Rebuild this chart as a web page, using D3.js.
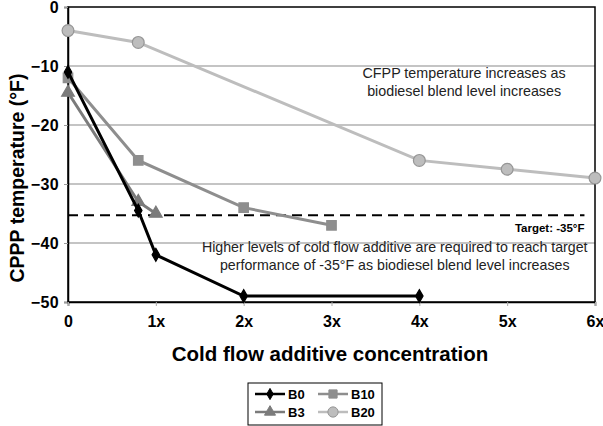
<!DOCTYPE html>
<html>
<head>
<meta charset="utf-8">
<script src="https://cdn.jsdelivr.net/npm/d3@7"></script>
<style>
  body { margin: 0; background: #fff; }
  svg { font-family: "Liberation Sans", Arial, sans-serif; }
</style>
</head>
<body>
<div id="chart"></div>
<script>
// data
const xTicks = [0, 1, 2, 3, 4, 5, 6];
const xTickLabels = ['0', '1x', '2x', '3x', '4x', '5x', '6x'];
const yTicks = [0, -10, -20, -30, -40, -50];

const b0X = [0, 0.8, 1, 2, 4];
const b0Y = [-11, -34.5, -42, -49, -49];
const b10X = [0, 0.8, 2, 3];
const b10Y = [-12, -26, -34, -37];
const b3X = [0, 0.8, 1];
const b3Y = [-14.5, -33, -35];
const b20X = [0, 0.8, 4, 5, 6];
const b20Y = [-4, -6, -26, -27.5, -29];

const targetValue = -35.3;

const width = 603, height = 426;
const margin = { top: 7, right: 8, bottom: 124, left: 68 };
const w = 595 - margin.left;
const h = 302 - margin.top;

const svg = d3.select('#chart').append('svg')
    .attr('width', width)
    .attr('height', height);

const g = svg.append('g')
    .attr('transform', `translate(${margin.left},${margin.top})`);

const x = d3.scaleLinear().domain([0, 6]).range([0, w]);
const y = d3.scaleLinear().domain([-50, 0]).range([h, 0]);

// gridlines
g.selectAll('.grid')
    .data(yTicks.filter(d => d !== 0 && d !== -50))
    .enter().append('line')
    .attr('x1', 0).attr('x2', w)
    .attr('y1', d => y(d)).attr('y2', d => y(d))
    .attr('stroke', '#c4c4c4')
    .attr('stroke-width', 2);

// box
g.append('rect')
    .attr('width', w).attr('height', h)
    .attr('fill', 'none')
    .attr('stroke', '#000')
    .attr('stroke-width', 1.5);

// axes
const yAxis = g.append('g')
    .call(d3.axisLeft(y).tickValues(yTicks).tickSize(4).tickFormat(d3.format('d')));
yAxis.select('.domain').attr('stroke', '#000').attr('stroke-width', 1.5);
yAxis.selectAll('.tick line').attr('stroke', '#999');
yAxis.selectAll('text')
    .attr('font-size', 16).attr('font-weight', 'bold').attr('fill', '#000')
    .attr('letter-spacing', 0.4)
    .attr('dx', '-2');

const xAxis = g.append('g')
    .attr('transform', `translate(0,${h})`)
    .call(d3.axisBottom(x).tickValues(xTicks).tickSize(4).tickFormat((d, i) => xTickLabels[i]));
xAxis.select('.domain').attr('stroke', '#000').attr('stroke-width', 1.5);
xAxis.selectAll('.tick line').attr('stroke', '#aaa');
xAxis.selectAll('text')
    .attr('font-size', 16).attr('font-weight', 'bold').attr('fill', '#000')
    .attr('dy', '1.1em');

// target line
g.append('line')
    .attr('x1', 0).attr('x2', x(5.88))
    .attr('y1', y(targetValue)).attr('y2', y(targetValue))
    .attr('stroke', '#000')
    .attr('stroke-width', 1.8)
    .attr('stroke-dasharray', '10,6');
g.append('text')
    .attr('x', x(5.88)).attr('y', y(targetValue) + 17)
    .attr('text-anchor', 'end')
    .attr('font-size', 11.5).attr('font-weight', 'bold')
    .text('Target: -35°F');

// annotations
const note1 = g.append('text')
    .attr('text-anchor', 'middle')
    .attr('font-size', 14.3).attr('fill', '#222');
note1.append('tspan').attr('x', x(4.51)).attr('y', y(-12.1)).text('CFPP temperature increases as');
note1.append('tspan').attr('x', x(4.51)).attr('y', y(-15.1)).text('biodiesel blend level increases');

const note2 = g.append('text')
    .attr('text-anchor', 'middle')
    .attr('font-size', 14.2).attr('fill', '#222');
note2.append('tspan').attr('x', x(3.72)).attr('y', y(-41.5)).text('Higher levels of cold flow additive are required to reach target');
note2.append('tspan').attr('x', x(3.72)).attr('y', y(-44.5)).text('performance of -35°F as biodiesel blend level increases');

// series
const series = [
    { name: 'B0', xs: b0X, ys: b0Y, color: '#000', fill: '#000', stroke: '#000', sym: d3.symbolDiamond, size: 48 },
    { name: 'B10', xs: b10X, ys: b10Y, color: '#8e8e8e', fill: '#8e8e8e', stroke: '#8e8e8e', sym: d3.symbolSquare, size: 90 },
    { name: 'B3', xs: b3X, ys: b3Y, color: '#7b7b7b', fill: '#7b7b7b', stroke: '#7b7b7b', sym: d3.symbolTriangle, size: 70 },
    { name: 'B20', xs: b20X, ys: b20Y, color: '#bdbdbd', fill: '#bdbdbd', stroke: '#969696', sym: d3.symbolCircle, size: 110 }
];

const line = d3.line().x(d => x(d[0])).y(d => y(d[1]));
const drawOrder = [series[3], series[1], series[2], series[0]];

drawOrder.forEach(s => {
    const pts = s.xs.map((v, i) => [v, s.ys[i]]);
    g.append('path')
        .datum(pts)
        .attr('d', line)
        .attr('fill', 'none')
        .attr('stroke', s.color)
        .attr('stroke-width', 3);
    g.selectAll(null)
        .data(pts)
        .enter().append('path')
        .attr('d', d3.symbol().type(s.sym).size(s.size))
        .attr('transform', d => `translate(${x(d[0])},${y(d[1])})`)
        .attr('fill', s.fill)
        .attr('stroke', s.stroke)
        .attr('stroke-width', 1.2);
});

// axis titles
svg.append('text')
    .attr('transform', 'translate(24,178) rotate(-90)')
    .attr('text-anchor', 'middle')
    .attr('font-size', 19.5).attr('font-weight', 'bold')
    .text('CPPP temperature (°F)');

svg.append('text')
    .attr('x', 330).attr('y', 361)
    .attr('text-anchor', 'middle')
    .attr('font-size', 20.5).attr('font-weight', 'bold')
    .text('Cold flow additive concentration');

// legend
const legend = svg.append('g').attr('transform', 'translate(248,383)');
legend.append('rect')
    .attr('width', 134).attr('height', 42)
    .attr('fill', '#fff')
    .attr('stroke', '#000')
    .attr('stroke-width', 1);

const legendItems = [
    { s: series[0], col: 0, row: 0 },
    { s: series[1], col: 1, row: 0 },
    { s: series[2], col: 0, row: 1 },
    { s: series[3], col: 1, row: 1 }
];
legendItems.forEach(it => {
    const lx = 7 + it.col * 63;
    const ly = 11 + it.row * 18;
    const item = legend.append('g').attr('transform', `translate(${lx},${ly})`);
    item.append('line')
        .attr('x1', 0).attr('x2', 30)
        .attr('stroke', it.s.color).attr('stroke-width', 2.5);
    item.append('path')
        .attr('d', d3.symbol().type(it.s.sym).size(it.s.size * 0.75))
        .attr('transform', 'translate(15,0)')
        .attr('fill', it.s.fill)
        .attr('stroke', it.s.stroke);
    item.append('text')
        .attr('x', 33).attr('y', 5)
        .attr('font-size', 13).attr('font-weight', 'bold')
        .text(it.s.name);
});
</script>
</body>
</html>
